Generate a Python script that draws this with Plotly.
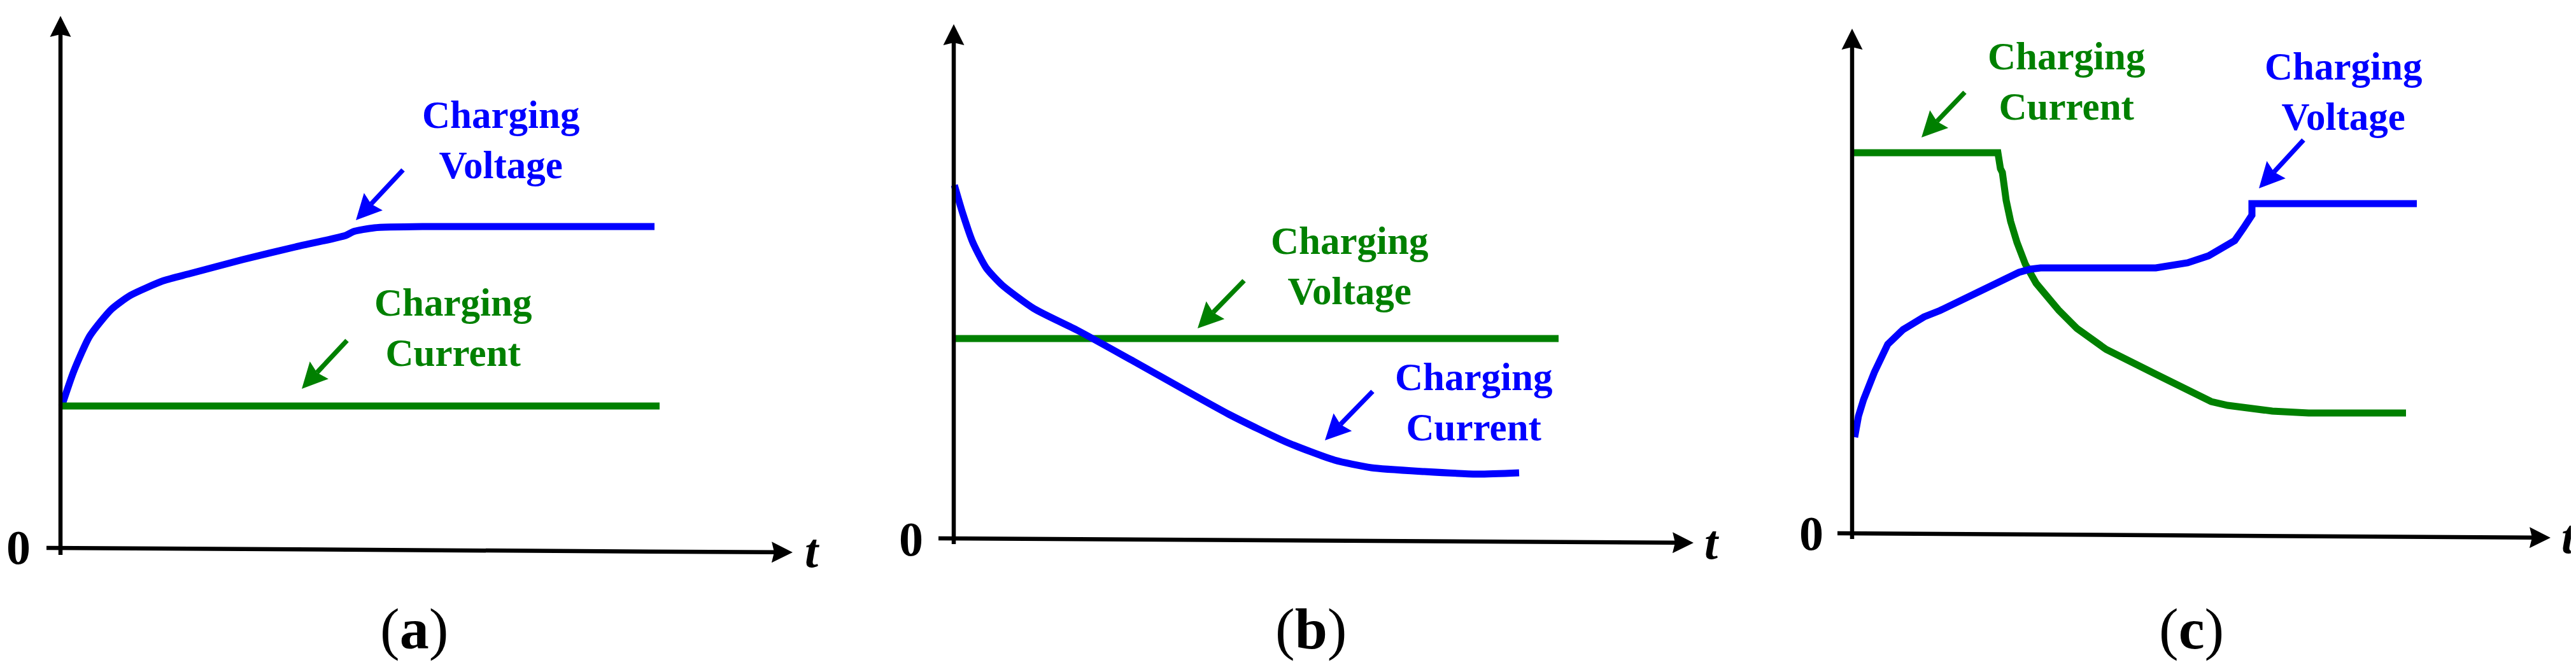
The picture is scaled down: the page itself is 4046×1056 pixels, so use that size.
import math
import plotly.graph_objects as go

# ---------------- data (arbitrary units) ----------------
# Panel (a): constant current charging
a_volt_t = [0.02, 0.21, 0.46, 0.80, 1.10, 1.62, 2.03, 2.86, 3.69, 4.48, 4.60, 4.93, 5.76, 9.33]
a_volt_v = [2.25, 2.80, 3.35, 3.77, 3.99, 4.22, 4.33, 4.55, 4.75, 4.93, 4.99, 5.05, 5.07, 5.07]
a_curr_t = [0.0, 9.41]
a_curr_v = [2.25, 2.25]

# Panel (b): constant voltage charging
b_curr_t = [0.01, 0.14, 0.30, 0.51, 0.76, 1.26, 1.96, 2.83, 4.32, 5.23, 5.98, 6.56, 7.39, 8.22, 8.88]
b_curr_v = [5.57, 5.13, 4.67, 4.27, 4.00, 3.63, 3.28, 2.80, 1.97, 1.53, 1.25, 1.13, 1.07, 1.03, 1.05]
b_volt_t = [0.0, 9.50]
b_volt_v = [3.16, 3.16]

# Panel (c): constant current / constant voltage charging
c_curr_t = [0.0, 2.29, 2.33, 2.36, 2.42, 2.49, 2.59, 2.72, 2.89, 3.05, 3.25, 3.53, 3.99, 4.77, 5.64, 5.90, 6.18, 6.60, 7.17, 8.70]
c_curr_v = [6.00, 6.00, 5.75, 5.69, 5.25, 4.92, 4.59, 4.25, 3.95, 3.74, 3.52, 3.24, 2.91, 2.52, 2.09, 2.03, 1.99, 1.94, 1.91, 1.91]
c_volt_t = [0.04, 0.10, 0.18, 0.35, 0.56, 0.80, 1.13, 1.38, 1.96, 2.46, 2.62, 2.80, 2.96, 4.77, 5.10, 5.27, 5.60, 5.85, 6.01, 6.15, 6.28, 6.28, 8.87]
c_volt_v = [1.53, 1.86, 2.12, 2.55, 2.99, 3.22, 3.42, 3.52, 3.80, 4.05, 4.12, 4.17, 4.19, 4.19, 4.23, 4.27, 4.38, 4.52, 4.62, 4.82, 5.02, 5.20, 5.20]

panel_labels = ["a", "b", "c"]
label_voltage = "Charging<br>Voltage"
label_current = "Charging<br>Current"

BLUE = "rgb(0,0,255)"
GREEN = "rgb(0,128,0)"
BLACK = "black"
FONT = "Liberation Serif"

W, H = 4046, 1056
SCALE = 100.0  # px per unit (same in x and y)

panels = [
    dict(left=0, right=1340, ox=87, oy=855),
    dict(left=1340, right=2700, ox=1490, oy=840),
    dict(left=2700, right=4046, ox=2901, oy=832),
]

series = [
    [(a_volt_t, a_volt_v, BLUE, "spline"), (a_curr_t, a_curr_v, GREEN, "linear")],
    [(b_volt_t, b_volt_v, GREEN, "linear"), (b_curr_t, b_curr_v, BLUE, "spline")],
    [(c_curr_t, c_curr_v, GREEN, "linear"), (c_volt_t, c_volt_v, BLUE, "linear")],
]

axis_geo = [
    dict(ybot=-0.09, ytop=8.38, xleft=(-0.22, 0.02), xtip=(11.50, -0.05), zero=(-0.66, 0.03), t=(11.81, -0.02), lab=(5.55, -1.25)),
    dict(ybot=-0.07, ytop=8.10, xleft=(-0.24, 0.02), xtip=(11.62, -0.05), zero=(-0.67, 0.01), t=(11.91, -0.04), lab=(5.61, -1.40)),
    dict(ybot=-0.07, ytop=7.95, xleft=(-0.23, 0.02), xtip=(10.97, -0.05), zero=(-0.64, 0.02), t=(11.26, -0.03), lab=(5.33, -1.48)),
]

labels = [
    [(label_voltage, BLUE, (6.91, 6.43), (5.38, 5.96), (4.64, 5.17)),
     (label_current, GREEN, (6.16, 3.48), (4.50, 3.28), (3.79, 2.52))],
    [(label_voltage, GREEN, (6.21, 4.30), (4.56, 4.07), (3.83, 3.32)),
     (label_current, BLUE, (8.16, 2.16), (6.58, 2.33), (5.83, 1.56))],
    [(label_current, GREEN, (3.36, 7.12), (1.77, 6.95), (1.09, 6.24)),
     (label_voltage, BLUE, (7.71, 6.96), (7.09, 6.20), (6.39, 5.44))],
]

fig = go.Figure()
shapes = []


def add_arrow(xa, ya, tail, tip, color, width, head_len, head_w, notch):
    dx, dy = tip[0] - tail[0], tip[1] - tail[1]
    ln = math.hypot(dx, dy)
    ux, uy = dx / ln, dy / ln
    px, py = -uy, ux
    bx, by = tip[0] - ux * head_len, tip[1] - uy * head_len
    nx, ny = tip[0] - ux * (head_len - notch), tip[1] - uy * (head_len - notch)
    c1 = (bx + px * head_w / 2, by + py * head_w / 2)
    c2 = (bx - px * head_w / 2, by - py * head_w / 2)
    shapes.append(dict(type="line", xref=xa, yref=ya, x0=tail[0], y0=tail[1],
                       x1=nx, y1=ny, line=dict(color=color, width=width)))
    path = "M{},{} L{},{} L{},{} L{},{} Z".format(tip[0], tip[1], c1[0], c1[1], nx, ny, c2[0], c2[1])
    shapes.append(dict(type="path", xref=xa, yref=ya, path=path, fillcolor=color,
                       line=dict(width=0)))


layout_axes = {}
for i, p in enumerate(panels):
    n = "" if i == 0 else str(i + 1)
    xa, ya = "x" + n, "y" + n
    for (tx, ty, col, shp) in series[i]:
        line = dict(color=col, width=11, shape=shp)
        if shp == "spline":
            line["smoothing"] = 0.6
        fig.add_trace(go.Scatter(x=tx, y=ty, mode="lines", xaxis=xa, yaxis=ya, line=line,
                                 showlegend=False, hoverinfo="skip", cliponaxis=False))
    xr = [(p["left"] - p["ox"]) / SCALE, (p["right"] - p["ox"]) / SCALE]
    yr = [(p["oy"] - H) / SCALE, p["oy"] / SCALE]
    layout_axes["xaxis" + n] = dict(domain=[p["left"] / W, p["right"] / W], range=xr, visible=False,
                                    anchor=ya, fixedrange=True)
    layout_axes["yaxis" + n] = dict(domain=[0, 1], range=yr, visible=False, anchor=xa, fixedrange=True)

    g = axis_geo[i]
    add_arrow(xa, ya, (0, g["ybot"]), (0, g["ytop"]), BLACK, 6.5, 0.33, 0.33, 0.04)
    add_arrow(xa, ya, g["xleft"], g["xtip"], BLACK, 6.5, 0.33, 0.33, 0.04)
    fig.add_annotation(x=g["zero"][0], y=g["zero"][1], xref=xa, yref=ya, text="0", showarrow=False,
                       font=dict(family=FONT, size=76, color=BLACK, weight="bold"))
    fig.add_annotation(x=g["t"][0], y=g["t"][1], xref=xa, yref=ya, text="t", showarrow=False,
                       font=dict(family=FONT, size=76, color=BLACK, weight="bold", style="italic"))
    fig.add_annotation(x=g["lab"][0], y=g["lab"][1], xref=xa, yref=ya,
                       text="(<b>" + panel_labels[i] + "</b>)", showarrow=False,
                       font=dict(family=FONT, size=92, color=BLACK))
    for (txt, col, pos, tail, tip) in labels[i]:
        fig.add_annotation(x=pos[0], y=pos[1], xref=xa, yref=ya, text=txt, showarrow=False,
                           font=dict(family=FONT, size=61, color=col, weight="bold"), align="center")
        add_arrow(xa, ya, tail, tip, col, 7.5, 0.40, 0.40, 0.05)

fig.update_layout(width=W, height=H, margin=dict(l=0, r=0, t=0, b=0),
                  paper_bgcolor="white", plot_bgcolor="white", showlegend=False,
                  shapes=shapes, **layout_axes)

fig.write_html("out.html", config={"displayModeBar": False})
